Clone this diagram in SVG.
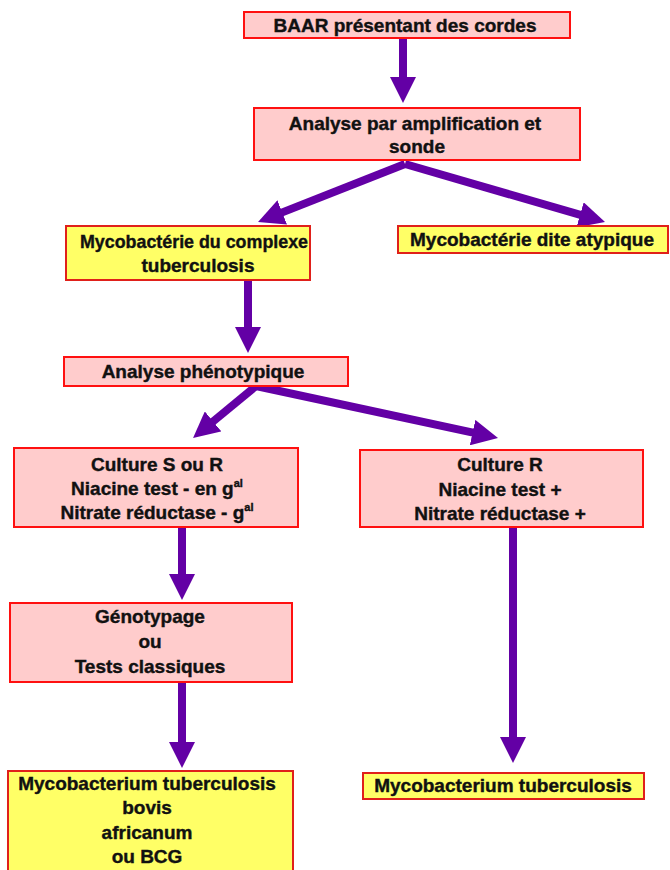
<svg xmlns="http://www.w3.org/2000/svg" width="670" height="870" viewBox="0 0 670 870">
<style>
.pink{fill:#FFCCCC;stroke:#FF1010;stroke-width:2}
.yel{fill:#FFFF66;stroke:#E0201A;stroke-width:2}
text{font-family:"Liberation Sans","DejaVu Sans",sans-serif;font-weight:bold;font-size:19px;fill:#111;stroke:#111;stroke-width:0.4;text-anchor:middle}
.arr{stroke:#6300A5;stroke-width:8;fill:none;marker-end:url(#ah)}
</style>
<defs>
<marker id="ah" viewBox="0 0 26 26" refX="4" refY="13" markerWidth="26" markerHeight="26" markerUnits="userSpaceOnUse" orient="auto">
<path d="M0,0 L26,13 L0,26 z" fill="#6300A5"/>
</marker>
</defs>
<rect width="670" height="870" fill="#fff"/>
<g id="connectors">
<path class="arr" d="M403,38 L403,81"/>
<path class="arr" d="M405,164 L278.5,213.9"/>
<path class="arr" d="M405,164 L583.9,215.9"/>
<path class="arr" d="M248,280 L248,331"/>
<path class="arr" d="M256,386 L210,424"/>
<path class="arr" d="M256,386 L476.5,433.4"/>
<path class="arr" d="M182,527 L182,578"/>
<path class="arr" d="M182,683 L182,746"/>
<path class="arr" d="M513,527 L513,741"/>
</g>
<g id="n1"><rect class="pink" x="244" y="12" width="326" height="26"/><text x="405" y="32">BAAR présentant des cordes</text></g>
<g id="n2"><rect class="pink" x="254" y="108" width="326" height="52"/><text x="415" y="130">Analyse par amplification et</text><text x="417" y="153">sonde</text></g>
<g id="n3"><rect class="yel" x="66" y="226" width="244" height="54"/><text x="194" y="248" textLength="228" lengthAdjust="spacingAndGlyphs">Mycobactérie du complexe</text><text x="198" y="272">tuberculosis</text></g>
<g id="n4"><rect class="yel" x="398" y="226" width="270" height="27"/><text x="532" y="246">Mycobactérie dite atypique</text></g>
<g id="n5"><rect class="pink" x="64" y="357" width="284" height="29"/><text x="203" y="378">Analyse phénotypique</text></g>
<g id="n6"><rect class="pink" x="14" y="448" width="284" height="79"/><text x="157" y="471">Culture S ou R</text><text x="157" y="495">Niacine test - en g<tspan font-size="11" dy="-8">al</tspan></text><text x="157" y="519">Nitrate réductase - g<tspan font-size="11" dy="-8">al</tspan></text></g>
<g id="n7"><rect class="pink" x="360" y="450" width="283" height="77"/><text x="500" y="471">Culture R</text><text x="500" y="496">Niacine test +</text><text x="500" y="520">Nitrate réductase +</text></g>
<g id="n8"><rect class="pink" x="10" y="603" width="282" height="79"/><text x="150" y="623">Génotypage</text><text x="150" y="648">ou</text><text x="150" y="673">Tests classiques</text></g>
<g id="n9"><rect class="yel" x="8" y="771" width="285" height="105"/><text x="147" y="790">Mycobacterium tuberculosis</text><text x="147" y="814">bovis</text><text x="147" y="839">africanum</text><text x="147" y="863">ou BCG</text></g>
<g id="n10"><rect class="yel" x="363" y="773" width="281" height="26"/><text x="503" y="792">Mycobacterium tuberculosis</text></g>
</svg>
